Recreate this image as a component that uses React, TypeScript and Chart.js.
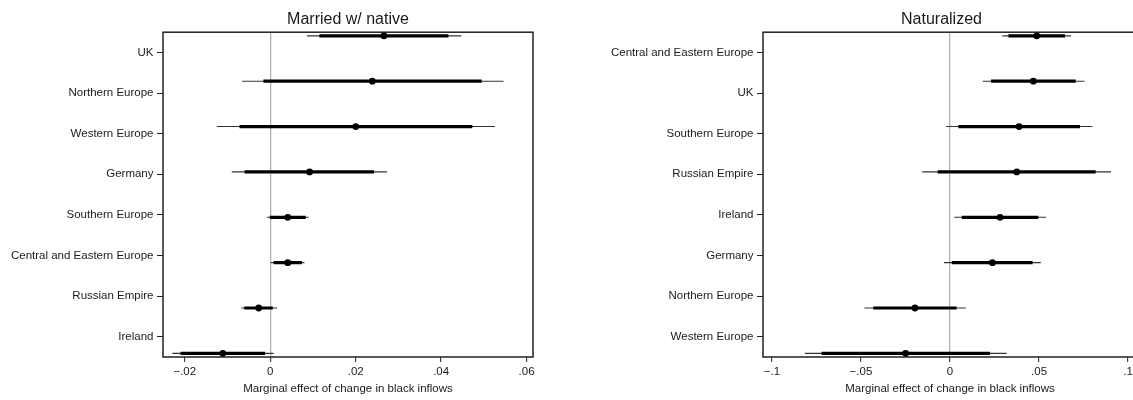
import React, { useEffect, useRef } from "react";
import { Chart, registerables } from "chart.js";
Chart.register(...registerables);

// ---- Panel 1: Married w/ native ----
const marriedTitle = "Married w/ native";
const marriedLabels = ["UK", "Northern Europe", "Western Europe", "Germany", "Southern Europe", "Central and Eastern Europe", "Russian Empire", "Ireland"];
const marriedEst = [0.0266, 0.0239, 0.0200, 0.0092, 0.0041, 0.0041, -0.0027, -0.0111];
const marriedLo90 = [0.0115, -0.0016, -0.0072, -0.0060, -0.0001, 0.0008, -0.0061, -0.0210];
const marriedHi90 = [0.0417, 0.0495, 0.0473, 0.0243, 0.0083, 0.0074, 0.0006, -0.0012];
const marriedLo95 = [0.0086, -0.0066, -0.0125, -0.0090, -0.0008, 0.0001, -0.0068, -0.0229];
const marriedHi95 = [0.0447, 0.0546, 0.0526, 0.0273, 0.0090, 0.0080, 0.0016, 0.0008];
const marriedXTicks = [-0.02, 0, 0.02, 0.04, 0.06];

// ---- Panel 2: Naturalized ----
const natTitle = "Naturalized";
const natLabels = ["Central and Eastern Europe", "UK", "Southern Europe", "Russian Empire", "Ireland", "Germany", "Northern Europe", "Western Europe"];
const natEst = [0.0487, 0.0468, 0.0388, 0.0375, 0.0281, 0.0238, -0.0197, -0.0249];
const natLo90 = [0.0328, 0.0230, 0.0047, -0.0069, 0.0066, 0.0010, -0.0431, -0.0721];
const natHi90 = [0.0646, 0.0706, 0.0730, 0.0818, 0.0496, 0.0464, 0.0037, 0.0225];
const natLo95 = [0.0294, 0.0184, -0.0022, -0.0156, 0.0024, -0.0034, -0.0481, -0.0815];
const natHi95 = [0.0680, 0.0755, 0.0800, 0.0904, 0.0539, 0.0510, 0.0088, 0.0318];
const natXTicks = [-0.1, -0.05, 0, 0.05, 0.1];

const xTitle = "Marginal effect of change in black inflows";

const FONT = "'Liberation Sans', Arial, Helvetica, sans-serif";
const TEXT = "#1a1a1a";
const Y_PAD = 0.08;

function fmtTick(v: number): string {
  if (v === 0) return "0";
  const s = Math.abs(v).toString().replace(/^0/, "");
  return (v < 0 ? "\u2212" : "") + s;
}

type Panel = {
  title: string;
  labels: string[];
  est: number[];
  lo90: number[];
  hi90: number[];
  lo95: number[];
  hi95: number[];
  xMin: number;
  xMax: number;
  xTicks: number[];
  yAxisWidth: number;
  padRight: number;
  titleShift: number;
};

const framePlugin = {
  id: "frameBox",
  beforeDatasetsDraw(chart: any) {
    const { ctx, chartArea } = chart;
    const { left, top, right, bottom } = chartArea;
    ctx.save();
    ctx.strokeStyle = "#222";
    ctx.lineWidth = 1.5;
    ctx.strokeRect(left, top, right - left, bottom - top);
    ctx.restore();
  },
};

function buildConfig(p: Panel): any {
  const datasets: any[] = [];
  p.labels.forEach((_, i) => {
    datasets.push({
      data: [{ x: p.lo95[i], y: i }, { x: p.hi95[i], y: i }],
      showLine: true,
      borderColor: "#333",
      borderWidth: 1.1,
      pointRadius: 0,
      order: 3,
    });
    datasets.push({
      data: [{ x: p.lo90[i], y: i }, { x: p.hi90[i], y: i }],
      showLine: true,
      borderColor: "#000",
      borderWidth: 3.2,
      pointRadius: 0,
      order: 2,
    });
  });
  datasets.push({
    data: p.est.map((v, i) => ({ x: v, y: i })),
    showLine: false,
    pointRadius: 3.4,
    pointBackgroundColor: "#000",
    pointBorderWidth: 0,
    order: 1,
  });

  const n = p.labels.length;
  const shift = p.titleShift;

  return {
    type: "scatter",
    data: { datasets },
    options: {
      responsive: false,
      animation: false,
      events: [],
      layout: { padding: { left: 0, right: p.padRight, top: 0, bottom: 0 } },
      plugins: {
        legend: { display: false },
        tooltip: { enabled: false },
        title: {
          display: true,
          text: p.title,
          fullSize: false,
          color: TEXT,
          font: { family: FONT, size: 16, weight: "normal" },
          padding: { top: 10, bottom: 3 },
        },
      },
      scales: {
        x: {
          type: "linear",
          min: p.xMin,
          max: p.xMax,
          afterBuildTicks: (s: any) => {
            s.ticks = p.xTicks.map((v) => ({ value: v }));
          },
          afterFit: (s: any) => {
            s.height = 43;
          },
          border: { display: false },
          grid: {
            drawOnChartArea: true,
            color: (c: any) => (c.tick && c.tick.value === 0 ? "#b3b3b3" : "rgba(0,0,0,0)"),
            lineWidth: 1.3,
            tickColor: "#222",
            tickWidth: 1,
            tickLength: 5,
          },
          ticks: {
            autoSkip: false,
            maxRotation: 0,
            padding: 3,
            color: TEXT,
            font: { family: FONT, size: 11.5 },
            callback: (v: any) => fmtTick(Number(v)),
          },
          title: {
            display: true,
            text: xTitle,
            color: TEXT,
            font: { family: FONT, size: 11.5 },
            padding: { top: 0, bottom: 4 },
          },
        },
        y: {
          type: "linear",
          reverse: true,
          min: -Y_PAD,
          max: n - 1 + Y_PAD,
          afterBuildTicks: (s: any) => {
            s.ticks = p.labels.map((_, k) => ({ value: s.min + ((k + 0.5) / n) * (s.max - s.min) }));
          },
          afterFit: (s: any) => {
            s.width = p.yAxisWidth;
          },
          border: { display: false },
          grid: {
            drawOnChartArea: false,
            tickColor: "#222",
            tickWidth: 1,
            tickLength: 6,
          },
          ticks: {
            autoSkip: false,
            padding: 3.5,
            color: TEXT,
            font: { family: FONT, size: 11.5 },
            callback: (_v: any, i: number) => p.labels[i],
          },
        },
      },
    },
    plugins: [
      framePlugin,
      {
        id: "titleShift",
        afterLayout(chart: any) {
          const tb = chart.titleBlock;
          if (tb && shift) {
            tb.left += shift;
            tb.right += shift;
          }
        },
      },
    ],
  };
}

const leftPanel: Panel = {
  title: marriedTitle,
  labels: marriedLabels,
  est: marriedEst,
  lo90: marriedLo90,
  hi90: marriedHi90,
  lo95: marriedLo95,
  hi95: marriedHi95,
  xMin: -0.0251,
  xMax: 0.0615,
  xTicks: marriedXTicks,
  yAxisWidth: 163,
  padRight: 27,
  titleShift: 0,
};

const rightPanel: Panel = {
  title: natTitle,
  labels: natLabels,
  est: natEst,
  lo90: natLo90,
  hi90: natHi90,
  lo95: natLo95,
  hi95: natHi95,
  xMin: -0.105,
  xMax: 0.105,
  xTicks: natXTicks,
  yAxisWidth: 203,
  padRight: 13,
  titleShift: -8.5,
};

export default function App() {
  const leftRef = useRef<HTMLCanvasElement | null>(null);
  const rightRef = useRef<HTMLCanvasElement | null>(null);

  useEffect(() => {
    const c1 = new Chart(leftRef.current as HTMLCanvasElement, buildConfig(leftPanel));
    const c2 = new Chart(rightRef.current as HTMLCanvasElement, buildConfig(rightPanel));
    return () => {
      c1.destroy();
      c2.destroy();
    };
  }, []);

  return (
    <div
      style={{
        position: "absolute",
        left: 0,
        top: 0,
        width: 1133,
        height: 400,
        overflow: "hidden",
        background: "#fff",
      }}
    >
      <div style={{ position: "absolute", left: 0, top: 0, width: 560, height: 400 }}>
        <canvas ref={leftRef} width={560} height={400} style={{ display: "block" }} />
      </div>
      <div style={{ position: "absolute", left: 560, top: 0, width: 590, height: 400 }}>
        <canvas ref={rightRef} width={590} height={400} style={{ display: "block" }} />
      </div>
    </div>
  );
}
